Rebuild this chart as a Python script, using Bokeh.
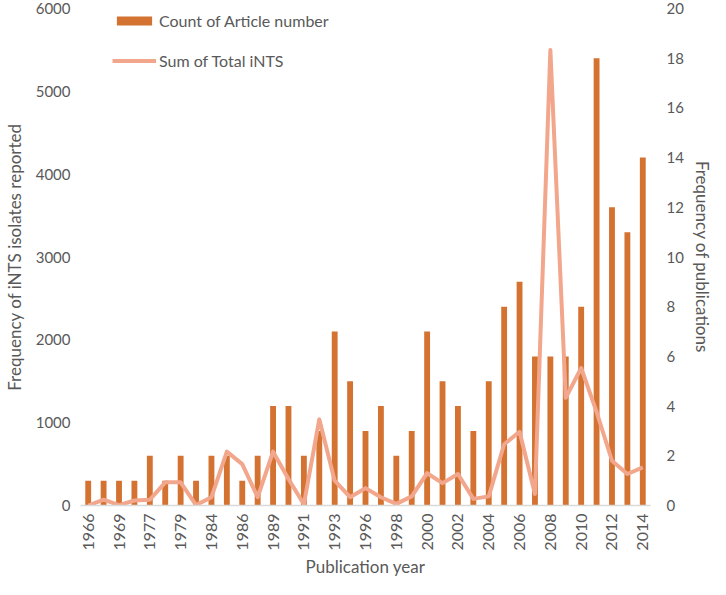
import math
from bokeh.plotting import figure
from bokeh.models import (ColumnDataSource, Range1d, LinearAxis, FixedTicker,
                          Legend, LegendItem)
from bokeh.embed import file_html
from bokeh.resources import INLINE

# ---- data -------------------------------------------------------------
years = ["1966", "1967", "1969", "1975", "1977", "1978", "1979", "1982", "1984",
         "1985", "1986", "1988", "1989", "1990", "1991", "1992", "1993", "1995",
         "1996", "1997", "1998", "1999", "2000", "2001", "2002", "2003", "2004",
         "2005", "2006", "2007", "2008", "2009", "2010", "2011", "2012", "2013",
         "2014"]
article_count = [1, 1, 1, 1, 2, 1, 2, 1, 2, 2, 1, 2, 4, 4, 2, 3, 7, 5, 3, 4,
                 2, 3, 7, 5, 4, 3, 5, 8, 9, 6, 6, 6, 8, 18, 12, 11, 14]
total_ints = [0, 70, 5, 60, 70, 280, 280, 5, 100, 650, 500, 100, 650, 320, 15,
              1040, 300, 100, 210, 100, 20, 110, 390, 270, 380, 80, 110, 740,
              890, 140, 5500, 1300, 1660, 1130, 540, 380, 460]
left_ticks = [0, 1000, 2000, 3000, 4000, 5000, 6000]
right_ticks = [0, 2, 4, 6, 8, 10, 12, 14, 16, 18, 20]

idx = list(range(len(years)))
src = ColumnDataSource(dict(idx=idx, year=years, pubs=article_count, ints=total_ints))

FONT = "Lato"
TXT = "#595959"
BAR = "#D37231"
LINE = "#F2A68B"

p = figure(width=716, height=579, output_backend="svg", toolbar_location=None,
           x_range=Range1d(-0.5, len(years) - 0.5), y_range=Range1d(0, 6000),
           min_border_left=73, min_border_right=66, min_border_top=8,
           min_border_bottom=70)
p.outline_line_color = None
p.grid.visible = False
p.background_fill_color = "white"
p.border_fill_color = "white"

p.extra_y_ranges = {"pubs": Range1d(0, 20)}

bars = p.vbar(x="idx", top="pubs", width=0.38, source=src, y_range_name="pubs",
              fill_color=BAR, line_color=None)
line = p.line(x="idx", y="ints", source=src, line_color=LINE, line_width=4,
              line_join="round")

# x axis
xa = p.xaxis[0]
xa.ticker = FixedTicker(ticks=idx[::2])
xa.major_label_overrides = {i: years[i] for i in idx[::2]}
xa.major_label_orientation = math.pi / 2
xa.axis_label = "Publication year"
xa.axis_line_color = "#D9D9D9"
xa.axis_line_width = 1.5
xa.major_label_standoff = 8
xa.axis_label_standoff = 2

# left axis
ya = p.yaxis[0]
ya.ticker = FixedTicker(ticks=left_ticks)
ya.axis_label = "Frequency of iNTS isolates reported"
ya.axis_line_color = None
ya.major_label_standoff = 10
ya.axis_label_standoff = 8

# right axis
ra = LinearAxis(y_range_name="pubs", ticker=FixedTicker(ticks=right_ticks),
                axis_label="Frequency of publications")
ra.axis_line_color = None
ra.major_label_standoff = 16
ra.axis_label_standoff = 5
p.add_layout(ra, "right")

for ax in (xa, ya, ra):
    ax.major_tick_line_color = None
    ax.minor_tick_line_color = None
    ax.major_tick_out = 0
    ax.major_tick_in = 0
    ax.minor_tick_out = 0
    ax.major_label_text_font = FONT
    ax.major_label_text_font_size = "15px"
    ax.major_label_text_color = TXT
    ax.axis_label_text_font = FONT
    ax.axis_label_text_font_size = "17px"
    ax.axis_label_text_font_style = "normal"
    ax.axis_label_text_color = TXT
xa.major_label_text_font_size = "16px"

legend = Legend(items=[LegendItem(label="Count of Article number", renderers=[bars]),
                       LegendItem(label="Sum of Total iNTS", renderers=[line])],
                location=(32, 435), orientation="vertical",
                glyph_width=44, glyph_height=11, label_height=20,
                spacing=20, padding=0, margin=0, label_standoff=3,
                label_text_font=FONT, label_text_font_size="16px",
                label_text_color=TXT, background_fill_alpha=0,
                border_line_color=None)
p.add_layout(legend)

open("out.html", "w").write(file_html(p, INLINE))
